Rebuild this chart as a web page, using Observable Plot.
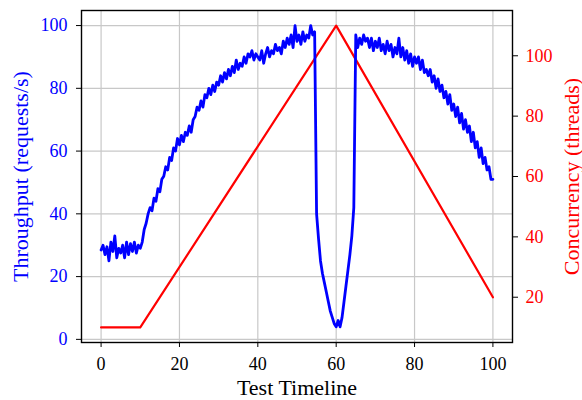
<!DOCTYPE html>
<html>
<head>
<meta charset="utf-8">
<script src="https://cdn.jsdelivr.net/npm/d3@7"></script>
<script src="https://cdn.jsdelivr.net/npm/@observablehq/plot@0.6"></script>
<style>
  html, body { margin: 0; padding: 0; background: #fff; }
  #chart { width: 582px; height: 400px; }
</style>
</head>
<body>
<div id="chart"></div>
<script>
// ---- data ----
const xTicks = [0, 20, 40, 60, 80, 100];
const leftTicks = [0, 20, 40, 60, 80, 100];
const rightTicks = [20, 40, 60, 80, 100];

// throughput sampled every 0.5 on the test timeline (0 .. 100)
const timeStep = 0.5;
const throughput = [
  28.5, 30, 27, 29.5, 25, 31, 28, 33, 26, 29,
  27.5, 30, 26, 31, 27, 30.5, 28, 31, 27.5, 30,
  29, 31, 35, 37, 40, 42, 41, 45, 44, 48,
  47, 51, 52, 55, 54, 58, 57, 61, 60, 64,
  62,
  65, 63, 66, 65, 68, 66, 70, 71, 74, 73,
  76, 74, 78, 77, 80, 78, 81, 79, 82, 81,
  84, 82, 85, 83, 86, 84, 87, 85, 89, 86,
  88, 87, 90, 88, 91, 90, 92, 89, 91, 90,
  89, 92, 88, 91, 93, 90, 92, 91, 94, 92,
  93, 91, 95, 93, 96, 94, 97, 93, 100, 95,
  97, 94, 98, 95, 97, 96, 100, 97, 98,
  40, 32, 25, 21, 18, 15, 12, 9, 7, 5,
  4, 6, 4, 7, 12, 17, 22, 27, 33, 42,
  97, 93, 96, 94, 97, 95, 96, 93, 96, 92,
  95, 93, 96, 92, 94, 91, 95, 92, 94, 90,
  93, 91, 96, 90, 93, 89, 92, 88, 91, 87,
  90, 88, 90, 86, 89, 85, 86, 84, 86, 82,
  84, 80, 83, 79, 81, 77, 79, 75, 78, 73,
  75, 71, 74, 69, 72, 67, 70, 66, 68, 63,
  66, 61, 63, 58, 61, 56, 58, 54, 55, 51,
  51
];

// concurrency (threads) breakpoints
const concX = [0, 10, 60, 100];
const concY = [10, 10, 110, 20];

// ---- scales for dual axis ----
const xDomain = [-5, 105];
const leftDomain = [-1, 104.8];
const rightDomain = [5, 115];
const toLeft = c => leftDomain[0] + (c - rightDomain[0]) * (leftDomain[1] - leftDomain[0]) / (rightDomain[1] - rightDomain[0]);
const toRight = v => rightDomain[0] + (v - leftDomain[0]) * (rightDomain[1] - rightDomain[0]) / (leftDomain[1] - leftDomain[0]);

const blueData = throughput.map((v, i) => ({t: i * timeStep, v}));
const redData = concX.map((t, i) => ({t, v: toLeft(concY[i])}));

const FONT = "'Liberation Serif', 'Times New Roman', Times, serif";
const gridStyle = {stroke: "#c8c8c8", strokeOpacity: 1, strokeWidth: 1.2};

const chart = Plot.plot({
  width: 582,
  height: 400,
  marginLeft: 81,
  marginRight: 70,
  marginTop: 10,
  marginBottom: 58,
  style: {fontFamily: FONT, background: "white", overflow: "visible"},
  x: {domain: xDomain},
  y: {domain: leftDomain},
  marks: [
    Plot.gridX(xTicks, gridStyle),
    Plot.gridY(leftTicks, gridStyle),
    Plot.line(redData, {x: "t", y: "v", stroke: "#ff0000", strokeWidth: 2.2}),
    Plot.line(blueData, {x: "t", y: "v", stroke: "#0000ff", strokeWidth: 2.8, strokeLinejoin: "round"}),
    Plot.frame({stroke: "black", strokeWidth: 1.4}),
    Plot.axisX(xTicks, {anchor: "bottom", tickSize: 5, tickPadding: 10, fontSize: 18, stroke: "black", fill: "black", label: null}),
    Plot.axisY(leftTicks, {anchor: "left", tickSize: 5, tickPadding: 9, fontSize: 18, stroke: "black", fill: "#0000ff", label: null}),
    Plot.axisY(rightTicks.map(toLeft), {anchor: "right", tickSize: 5, tickPadding: 8, fontSize: 18, stroke: "black", fill: "#ff0000", label: null, tickFormat: v => String(Math.round(toRight(v)))}),
    Plot.text(["Test Timeline"], {frameAnchor: "bottom", textAnchor: "middle", lineAnchor: "top", dy: 37, fontSize: 22, fill: "black", text: d => d}),
    Plot.text(["Throughput (requests/s)"], {frameAnchor: "left", textAnchor: "middle", lineAnchor: "middle", rotate: -90, dx: -61, fontSize: 22, fill: "#0000ff", text: d => d}),
    Plot.text(["Concurrency (threads)"], {frameAnchor: "right", textAnchor: "middle", lineAnchor: "middle", rotate: -90, dx: 59, fontSize: 22, fill: "#ff0000", text: d => d})
  ]
});
document.getElementById("chart").appendChild(chart);
</script>
</body>
</html>
